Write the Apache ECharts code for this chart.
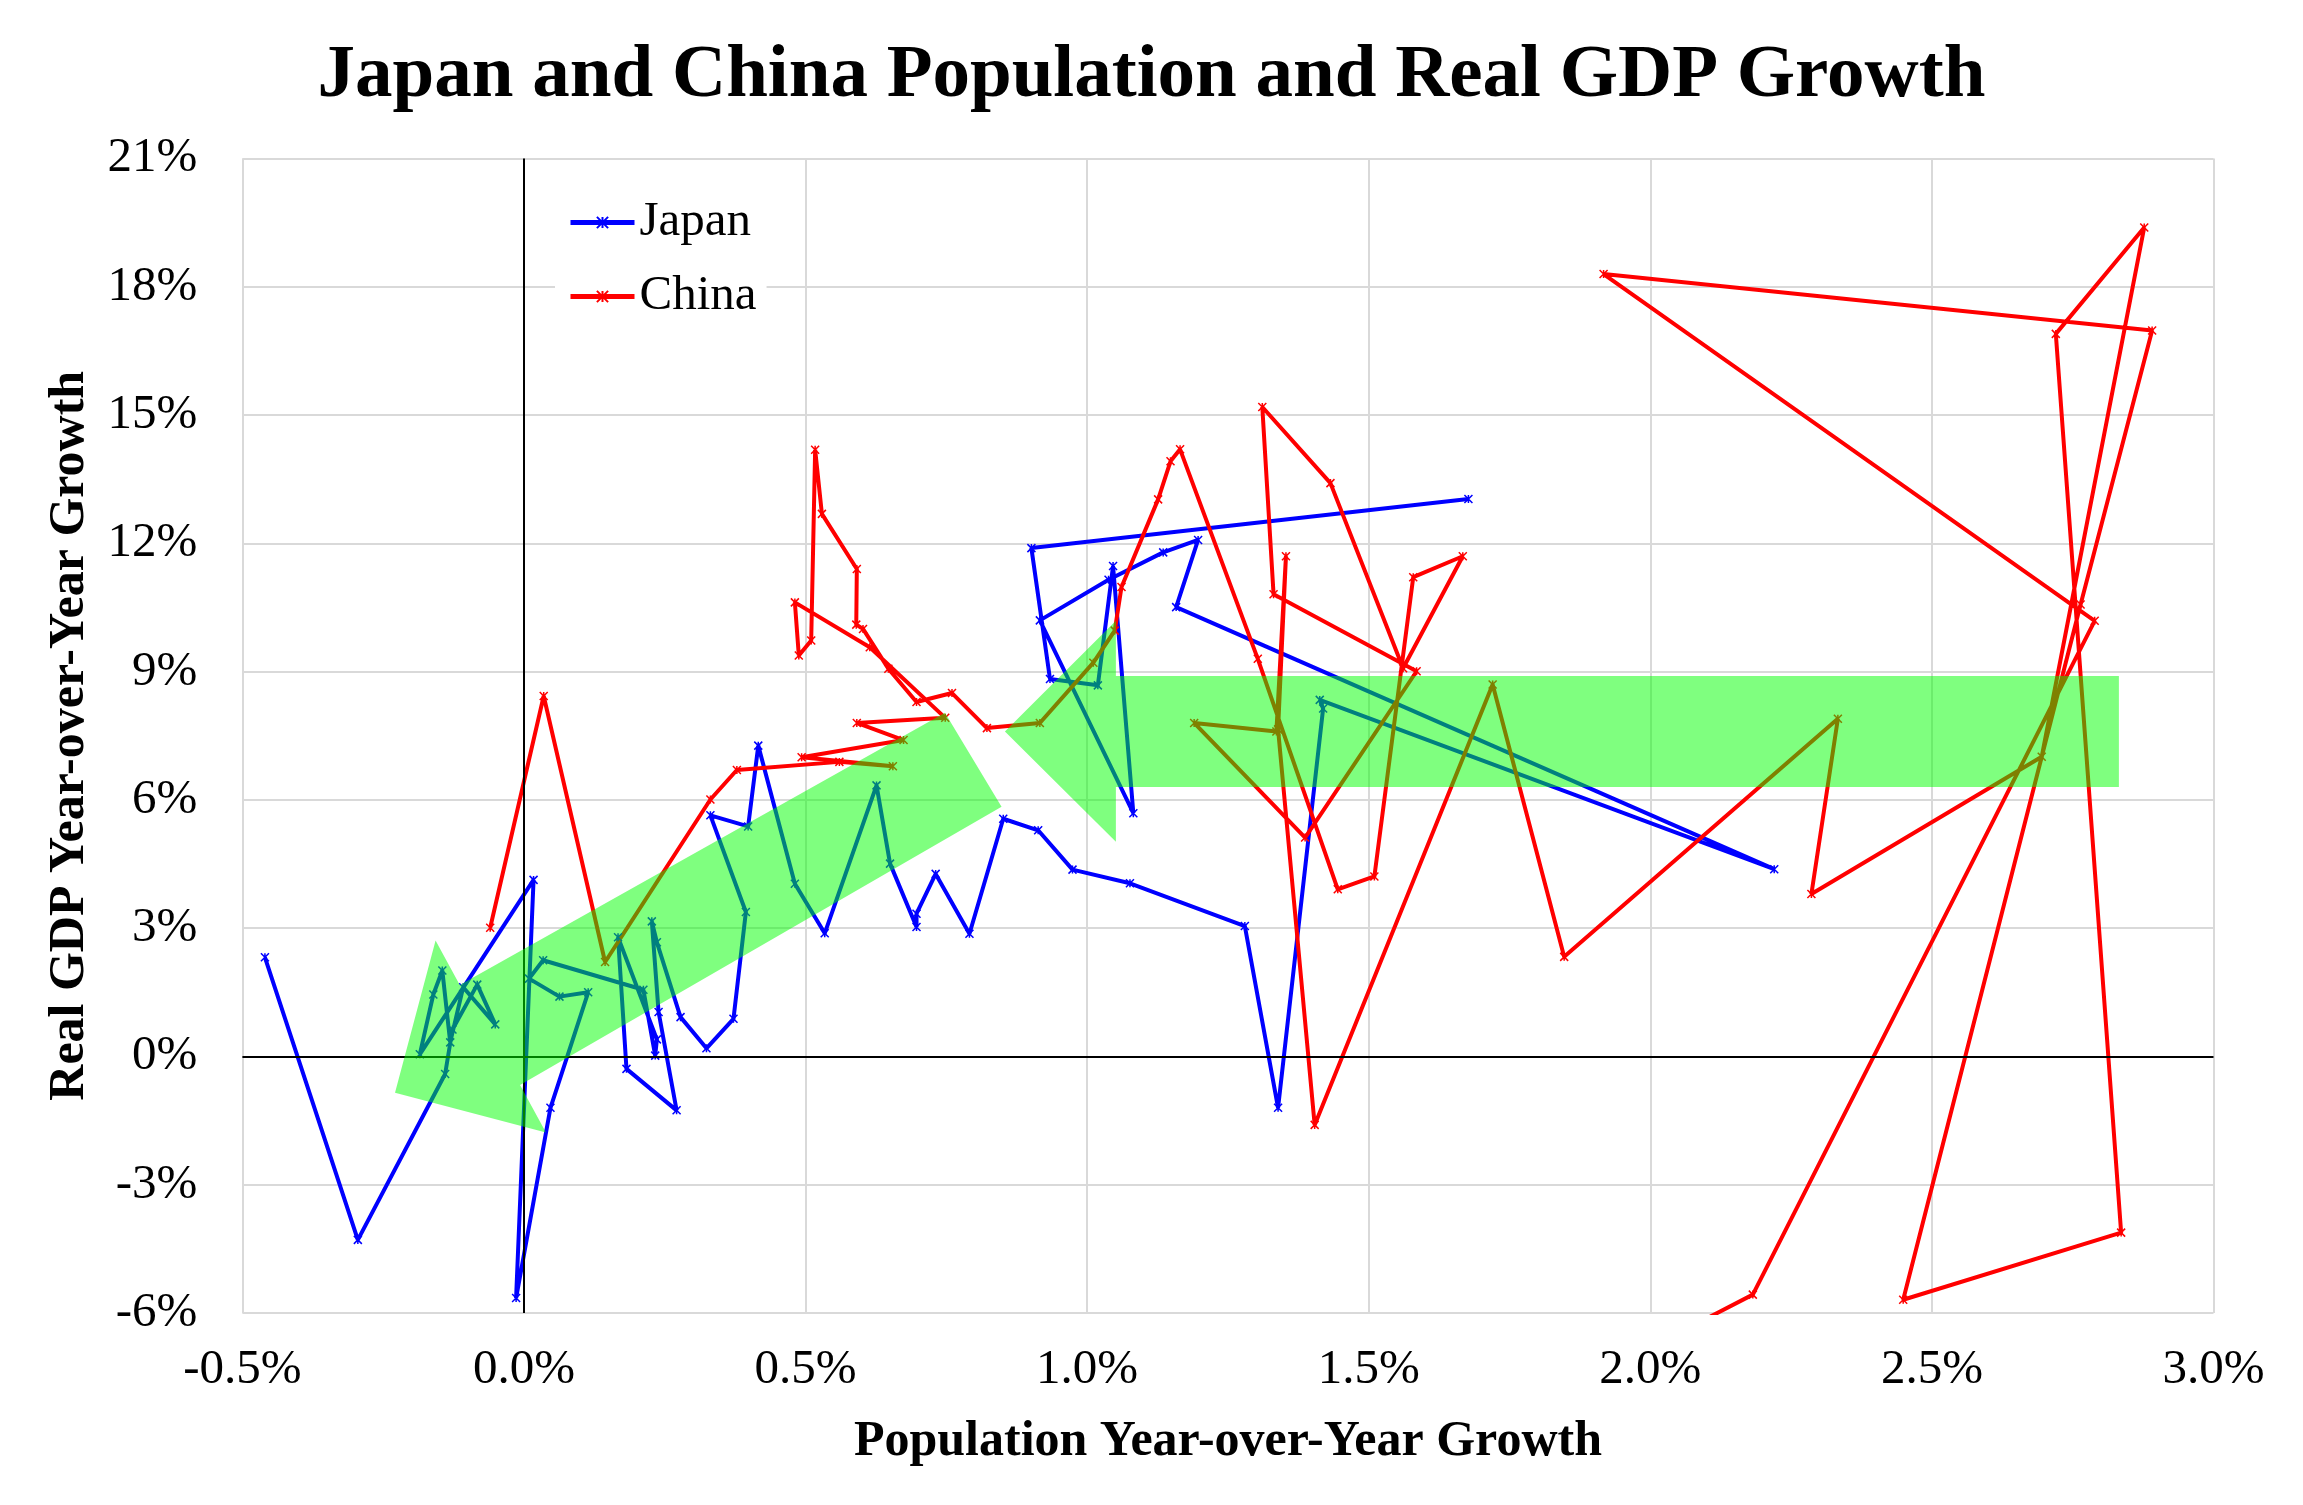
<!DOCTYPE html>
<html>
<head>
<meta charset="utf-8">
<script src="https://cdn.jsdelivr.net/npm/echarts@6/dist/echarts.min.js"></script>
<style>
html, body { margin: 0; padding: 0; background: #ffffff; }
#chart { width: 2303px; height: 1505px; }
</style>
</head>
<body>
<div id="chart"></div>
<script>
// ---------- DATA (values in percent) ----------
// Japan, 1960 -> 2021 (path order)
const japanPop = [1.677, 0.901, 0.934, 1.019, 1.046, 1.082, 0.916, 1.038, 1.135, 1.197,
  1.158, 2.220, 1.413, 1.419, 1.339, 1.280, 1.076, 0.974, 0.913, 0.851,
  0.791, 0.731, 0.697, 0.697, 0.650, 0.626, 0.534, 0.481, 0.416, 0.398,
  0.331, 0.394, 0.372, 0.324, 0.278, 0.236, 0.227, 0.239, 0.271, 0.182,
  0.167, 0.236, 0.233, 0.212, 0.034, 0.009, 0.063, 0.114, 0.047, -0.014,
  0.017, -0.185, -0.161, -0.145, -0.131, -0.108, -0.051, -0.083, -0.127, -0.140,
  -0.295, -0.460];
const japanGdp = [13.04, 11.89, 8.83, 8.68, 11.47, 5.69, 10.20, 11.15, 11.79, 12.08,
  10.51, 4.38, 8.34, 8.14, -1.20, 3.05, 4.05, 4.37, 5.29, 5.56,
  2.87, 4.27, 3.34, 3.03, 4.51, 6.34, 2.88, 4.04, 7.27, 5.38,
  5.64, 3.38, 0.88, 0.19, 0.92, 2.67, 3.16, 1.04, -1.26, -0.29,
  2.79, 0.40, 0.02, 1.56, 2.25, 1.82, 1.40, 1.50, -1.20, -5.65,
  4.13, 0.05, 1.45, 2.01, 0.33, 1.62, 0.75, 1.68, 0.63, -0.41,
  -4.29, 2.32];

// China, 1961 -> 2022 (path order)
const chinaPop = [-1.01, 2.182, 2.789, 1.917, 2.891, 2.764, 2.449, 2.836, 2.720, 2.877,
  2.695, 2.286, 2.333, 1.847, 1.720, 1.404, 1.339, 1.353, 1.336, 1.190,
  1.387, 1.585, 1.331, 1.311, 1.432, 1.561, 1.667, 1.579, 1.510, 1.445,
  1.303, 1.165, 1.148, 1.126, 1.061, 1.049, 1.011, 0.916, 0.822, 0.760,
  0.697, 0.647, 0.602, 0.590, 0.591, 0.529, 0.517, 0.510, 0.488, 0.481,
  0.614, 0.748, 0.591, 0.674, 0.493, 0.655, 0.560, 0.378, 0.331, 0.144,
  0.035, -0.060];
const chinaGdp = [-27.3, -5.57, 10.19, 18.30, 16.98, 10.57, -5.69, -4.12, 16.90, 19.39,
  7.01, 3.80, 7.90, 2.33, 8.70, -1.60, 7.65, 11.70, 7.60, 7.80,
  5.12, 9.01, 10.81, 15.19, 13.41, 9.08, 11.70, 11.21, 4.21, 3.91,
  9.30, 14.20, 13.92, 13.03, 10.98, 9.96, 9.21, 7.80, 7.68, 8.50,
  8.29, 9.07, 10.00, 10.10, 11.40, 12.69, 14.19, 9.73, 9.38, 10.62,
  9.57, 7.92, 7.80, 7.40, 7.00, 6.79, 6.89, 6.70, 6.01, 2.21,
  8.43, 3.01];

// Green highlight arrows (outline vertices in data units)
const arrow1X = [0.7475, 0.848, -0.007, 0.039, -0.229, -0.157, -0.114];
const arrow1Y = [8.04, 5.84, -0.67, -1.78, -0.85, 2.71, 1.67];
const arrow2X = [0.854, 1.051, 1.051, 2.832, 2.832, 1.051, 1.051];
const arrow2Y = [7.60, 10.19, 8.90, 8.90, 6.30, 6.30, 5.02];

// Axis ticks
const xTicks = { min: -0.5, max: 3.0, step: 0.5 };
const yTicks = { min: -6, max: 21, step: 3 };

// ---------- CHART ----------
const FONT = 'Liberation Serif';
const pairs = (xs, ys) => xs.map((x, i) => [x, ys[i]]);
const arrows = [{ x: arrow1X, y: arrow1Y }, { x: arrow2X, y: arrow2Y }];
const cross = 'path://M0,0L10,10M10,0L0,10M5,0L5,10';

const chart = echarts.init(document.getElementById('chart'), null, { renderer: 'canvas' });

const option = {
  animation: false,
  backgroundColor: '#ffffff',
  title: {
    text: 'Japan and China Population and Real GDP Growth',
    left: 'center',
    top: 34,
    textStyle: { fontFamily: FONT, fontWeight: 'bold', fontSize: 75, color: '#000000' }
  },
  legend: {
    data: ['Japan', 'China'],
    orient: 'vertical',
    left: 555,
    top: 190,
    padding: [8, 10, 8, 13],
    itemWidth: 64,
    itemHeight: 14,
    itemGap: 25,
    backgroundColor: '#ffffff',
    lineStyle: { width: 5 },
    textStyle: { fontFamily: FONT, fontSize: 49, color: '#000000' }
  },
  grid: { left: 242.4, right: 89.5, top: 158.6, bottom: 192, containLabel: false },
  xAxis: {
    type: 'value',
    min: xTicks.min, max: xTicks.max, interval: xTicks.step,
    axisLine: { show: false },
    axisTick: { show: false },
    splitLine: { show: true, lineStyle: { color: '#d9d9d9', width: 2 } },
    axisLabel: {
      formatter: v => v.toFixed(1) + '%',
      fontFamily: FONT, fontSize: 49, color: '#000000', margin: 33
    },
    name: 'Population Year-over-Year Growth',
    nameLocation: 'middle',
    nameGap: 104,
    nameTextStyle: { fontFamily: FONT, fontWeight: 'bold', fontSize: 50, color: '#000000' }
  },
  yAxis: {
    type: 'value',
    min: yTicks.min, max: yTicks.max, interval: yTicks.step,
    axisLine: { show: false },
    axisTick: { show: false },
    splitLine: { show: true, lineStyle: { color: '#d9d9d9', width: 2 } },
    axisLabel: {
      formatter: v => v + '%',
      fontFamily: FONT, fontSize: 49, color: '#000000', margin: 45
    },
    name: 'Real GDP Year-over-Year Growth',
    nameLocation: 'middle',
    nameRotate: 90,
    nameGap: 147,
    nameTextStyle: { fontFamily: FONT, fontWeight: 'bold', fontSize: 50, color: '#000000' }
  },
  series: [
    {
      name: 'zero',
      type: 'line',
      data: [],
      z: 1,
      silent: true,
      markLine: {
        silent: true,
        symbol: ['none', 'none'],
        label: { show: false },
        emphasis: { disabled: true },
        lineStyle: { color: '#000000', width: 2, type: 'solid' },
        data: [{ xAxis: 0 }, { yAxis: 0 }]
      }
    },
    {
      name: 'Japan',
      type: 'line',
      data: pairs(japanPop, japanGdp),
      z: 2,
      clip: true,
      symbol: cross,
      symbolSize: 8,
      showSymbol: true,
      lineStyle: { color: '#0000ff', width: 4 },
      itemStyle: { color: '#0000ff', borderColor: '#0000ff', borderWidth: 1.5 },
      emphasis: { disabled: true },
      silent: true
    },
    {
      name: 'China',
      type: 'line',
      data: pairs(chinaPop, chinaGdp),
      z: 2,
      clip: true,
      symbol: cross,
      symbolSize: 8,
      showSymbol: true,
      lineStyle: { color: '#ff0000', width: 4 },
      itemStyle: { color: '#ff0000', borderColor: '#ff0000', borderWidth: 1.5 },
      emphasis: { disabled: true },
      silent: true
    },
    {
      name: 'highlight',
      type: 'custom',
      z: 5,
      silent: true,
      data: arrows.map(a => [a.x[0], a.y[0]]),
      renderItem: (params, api) => {
        const a = arrows[params.dataIndex];
        const pts = a.x.map((x, i) => api.coord([x, a.y[i]]));
        return {
          type: 'polygon',
          shape: { points: pts },
          style: { fill: 'rgba(0,255,0,0.5)', stroke: null }
        };
      }
    }
  ]
};

chart.setOption(option);
</script>
</body>
</html>
